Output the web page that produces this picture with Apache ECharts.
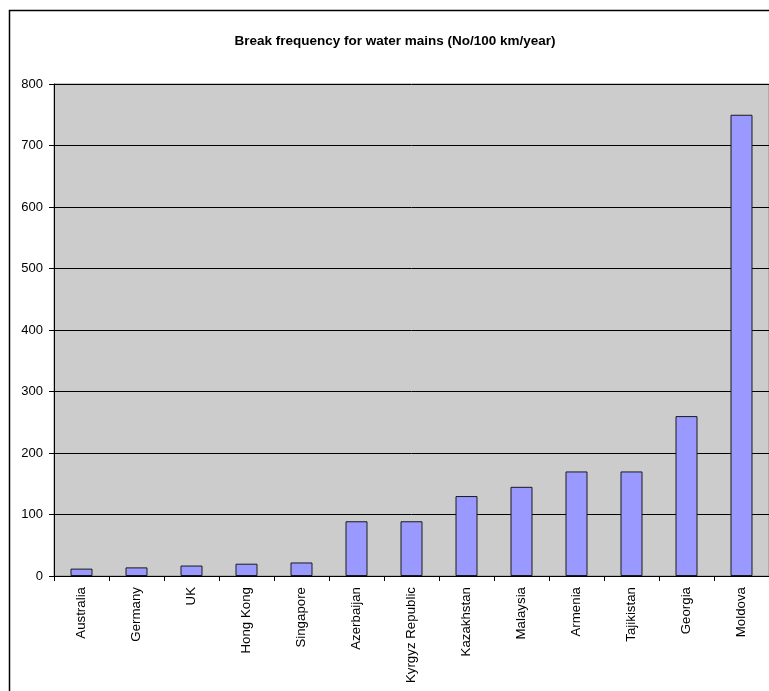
<!DOCTYPE html>
<html>
<head>
<meta charset="utf-8">
<title>Break frequency for water mains</title>
<script src="https://cdn.jsdelivr.net/npm/echarts@6/dist/echarts.min.js"></script>
<style>
  html, body { margin: 0; padding: 0; background: #ffffff; }
  #chart { width: 769px; height: 691px; }
</style>
</head>
<body>
<div id="chart"></div>
<script>
// Countries, ordered from lowest to highest break frequency
const countries = [
  'Australia', 'Germany', 'UK', 'Hong Kong', 'Singapore', 'Azerbaijan',
  'Kyrgyz Republic', 'Kazakhstan', 'Malaysia', 'Armenia', 'Tajikistan',
  'Georgia', 'Moldova'
];
// Breaks per 100 km of main per year
const breakRates = [12, 14, 17, 20, 22, 89, 89, 130, 145, 170, 170, 260, 750];
// Value axis ticks
const yTicks = [0, 100, 200, 300, 400, 500, 600, 700, 800];

const chart = echarts.init(document.getElementById('chart'), null, { renderer: 'canvas' });
const font = 'Liberation Sans, Arial, sans-serif';

chart.setOption({
  animation: false,
  backgroundColor: '#ffffff',
  title: {
    text: 'Break frequency for water mains (No/100 km/year)',
    left: 390,
    textAlign: 'center',
    top: 29,
    textStyle: { fontFamily: font, fontSize: 13.5, fontWeight: 'bold', color: '#000000' }
  },
  graphic: [{
    type: 'rect',
    shape: { x: 9.5, y: 10.5, width: 820, height: 720 },
    style: { fill: null, stroke: '#000000', lineWidth: 1.5 },
    silent: true
  }],
  grid: {
    left: 54, top: 84, width: 715, height: 492,
    show: true, backgroundColor: '#cccccc', borderColor: '#8c8c8c', borderWidth: 1
  },
  xAxis: {
    type: 'category',
    data: countries,
    boundaryGap: true,
    axisLine: { show: true, lineStyle: { color: '#000000', width: 1 } },
    axisTick: { show: true, inside: false, length: 5, alignWithLabel: false, lineStyle: { color: '#000000' } },
    axisLabel: {
      interval: 0, rotate: 90, margin: 11,
      fontFamily: font, fontSize: 13.3, color: '#000000'
    },
    splitLine: { show: false }
  },
  yAxis: {
    type: 'value',
    min: yTicks[0],
    max: yTicks[yTicks.length - 1],
    interval: yTicks[1] - yTicks[0],
    axisLine: { show: true, lineStyle: { color: '#000000', width: 1 } },
    axisTick: { show: true, inside: false, length: 5, lineStyle: { color: '#000000' } },
    axisLabel: { margin: 11, fontFamily: font, fontSize: 13, color: '#000000' },
    splitLine: { show: true, lineStyle: { color: '#000000', width: 1 } }
  },
  series: [{
    type: 'bar',
    data: breakRates,
    barWidth: 22,
    itemStyle: { color: '#9999ff', borderColor: '#1a1a1a', borderWidth: 1 }
  }]
});
</script>
</body>
</html>
